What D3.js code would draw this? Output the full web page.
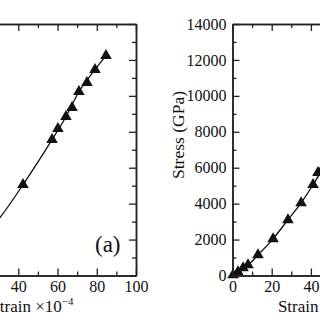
<!DOCTYPE html>
<html>
<head>
<meta charset="utf-8">
<script src="https://cdn.jsdelivr.net/npm/d3@7"></script>
<style>
  body { margin: 0; background: #fff; }
  svg { display: block; }
  text { font-family: "Liberation Serif", "Times New Roman", Times, "DejaVu Serif", serif; fill: #111; }
</style>
</head>
<body>
<div id="chart"></div>
<script>
// values
var strainTicks = [0, 20, 40, 60, 80, 100];
var strainMinor = [10, 30, 50, 70, 90];
var stressTicks = [0, 2000, 4000, 6000, 8000, 10000, 12000, 14000];
var stressMinor = [1000, 3000, 5000, 7000, 9000, 11000, 13000];

// panel (a) markers
var aStrain = [42.4, 57.2, 60.2, 64.3, 67.4, 70.9, 75.0, 79.1, 84.7];
var aStress = [5050, 7560, 8170, 8840, 9340, 10230, 10740, 11460, 12240];
// panel (a) curve
var aLineStrain = [29, 30.7, 42.4, 57.2, 64.3, 70.9, 79.1, 84.7];
var aLineStress = [3000, 3230, 5050, 7560, 8840, 10230, 11460, 12240];

// panel (b) markers
var bStrain = [0.3, 2.8, 5.4, 7.9, 13.0, 20.7, 28.3, 35.0, 41.1, 43.6, 46.5];
var bStress = [30, 195, 420, 590, 1140, 2040, 3100, 4040, 5050, 5720, 6050];
// panel (b) curve
var bLineStrain = [0, 2.8, 5.4, 7.9, 13.0, 20.7, 28.3, 35.0, 41.1, 46.5];
var bLineStress = [0, 195, 420, 590, 1140, 2040, 3100, 4040, 5050, 6050];

var svgWidth = 320;
var svgHeight = 320;
var top_y = 24, bottom_y = 275.5;
var serif = "'Liberation Serif', 'Times New Roman', Times, 'DejaVu Serif', serif";

var svg = d3.select("#chart")
  .append("svg")
  .attr("width", svgWidth)
  .attr("height", svgHeight);

var yScale = d3.scaleLinear().domain([0, 14000]).range([bottom_y, top_y]);

function drawPanel(x0, x1, markStrain, markStress, lineStrain, lineStress, isRight) {
  var xScale = d3.scaleLinear().domain([0, 100]).range([x0, x1]);
  var g = svg.append("g");

  // curve
  var pts = lineStrain.map(function(d, i) { return [d, lineStress[i]]; });
  g.append("path")
    .datum(pts)
    .attr("fill", "none")
    .attr("stroke", "#111")
    .attr("stroke-width", 1.3)
    .attr("d", d3.line()
      .x(function(d) { return xScale(d[0]); })
      .y(function(d) { return yScale(d[1]); })
      .curve(d3.curveMonotoneX));

  // triangles
  var tri = d3.symbol().type(d3.symbolTriangle).size(58);
  g.selectAll(".mk")
    .data(markStrain.map(function(d, i) { return [d, markStress[i]]; }))
    .enter()
    .append("path")
    .attr("class", "mk")
    .attr("d", tri)
    .attr("fill", "#111")
    .attr("transform", function(d) { return "translate(" + xScale(d[0]) + "," + yScale(d[1]) + ")"; });

  function style(ax) {
    ax.attr("font-family", serif);
    ax.select(".domain").attr("stroke", "#222").attr("stroke-width", 1.5);
    ax.selectAll(".tick line").attr("stroke", "#222").attr("stroke-width", 1.3);
    ax.selectAll("text").attr("font-size", 16).attr("fill", "#111");
  }

  // bottom
  style(g.append("g").attr("transform", "translate(0," + bottom_y + ")")
    .call(d3.axisBottom(xScale).tickValues(strainTicks).tickSize(-7).tickSizeOuter(0).tickPadding(5)));
  style(g.append("g").attr("transform", "translate(0," + bottom_y + ")")
    .call(d3.axisBottom(xScale).tickValues(strainMinor).tickSize(-4).tickSizeOuter(0).tickFormat("")));
  // top
  style(g.append("g").attr("transform", "translate(0," + top_y + ")")
    .call(d3.axisBottom(xScale).tickValues(strainTicks).tickSize(7).tickSizeOuter(0).tickFormat("")));
  style(g.append("g").attr("transform", "translate(0," + top_y + ")")
    .call(d3.axisBottom(xScale).tickValues(strainMinor).tickSize(4).tickSizeOuter(0).tickFormat("")));
  // left
  var left = d3.axisLeft(yScale).tickValues(stressTicks).tickSize(-7).tickSizeOuter(0).tickPadding(6)
    .tickFormat(isRight ? d3.format("d") : "");
  style(g.append("g").attr("transform", "translate(" + x0 + ",0)").call(left));
  style(g.append("g").attr("transform", "translate(" + x0 + ",0)")
    .call(d3.axisLeft(yScale).tickValues(stressMinor).tickSize(-4).tickSizeOuter(0).tickFormat("")));
  // right
  style(g.append("g").attr("transform", "translate(" + x1 + ",0)")
    .call(d3.axisLeft(yScale).tickValues(stressTicks).tickSize(7).tickSizeOuter(0).tickFormat("")));
  style(g.append("g").attr("transform", "translate(" + x1 + ",0)")
    .call(d3.axisLeft(yScale).tickValues(stressMinor).tickSize(4).tickSizeOuter(0).tickFormat("")));

  // x title
  var t = g.append("text")
    .attr("x", (x0 + x1) / 2 - (isRight ? 11 : 6))
    .attr("y", 312)
    .attr("text-anchor", "middle")
    .attr("font-size", 17);
  t.append("tspan").text("Strain \u00d710");
  t.append("tspan").attr("font-size", 11).attr("dy", -7).text("\u2212" + "4");

  // y title (only panel b's is on screen)
  if (isRight) {
    g.append("text")
      .attr("transform", "translate(" + (x0 - 53) + ",135) rotate(-90)")
      .attr("text-anchor", "middle")
      .attr("dominant-baseline", "middle")
      .attr("font-size", 17.5)
      .text("Stress (GPa)");
  }

  return g;
}

var ga = drawPanel(-60.2, 136, aStrain, aStress, aLineStrain, aLineStress, false);
var gb = drawPanel(232.5, 428.5, bStrain, bStress, bLineStrain, bLineStress, true);

ga.append("text")
  .attr("x", 95)
  .attr("y", 252)
  .attr("font-size", 23)
  .text("(a)");
</script>
</body>
</html>
